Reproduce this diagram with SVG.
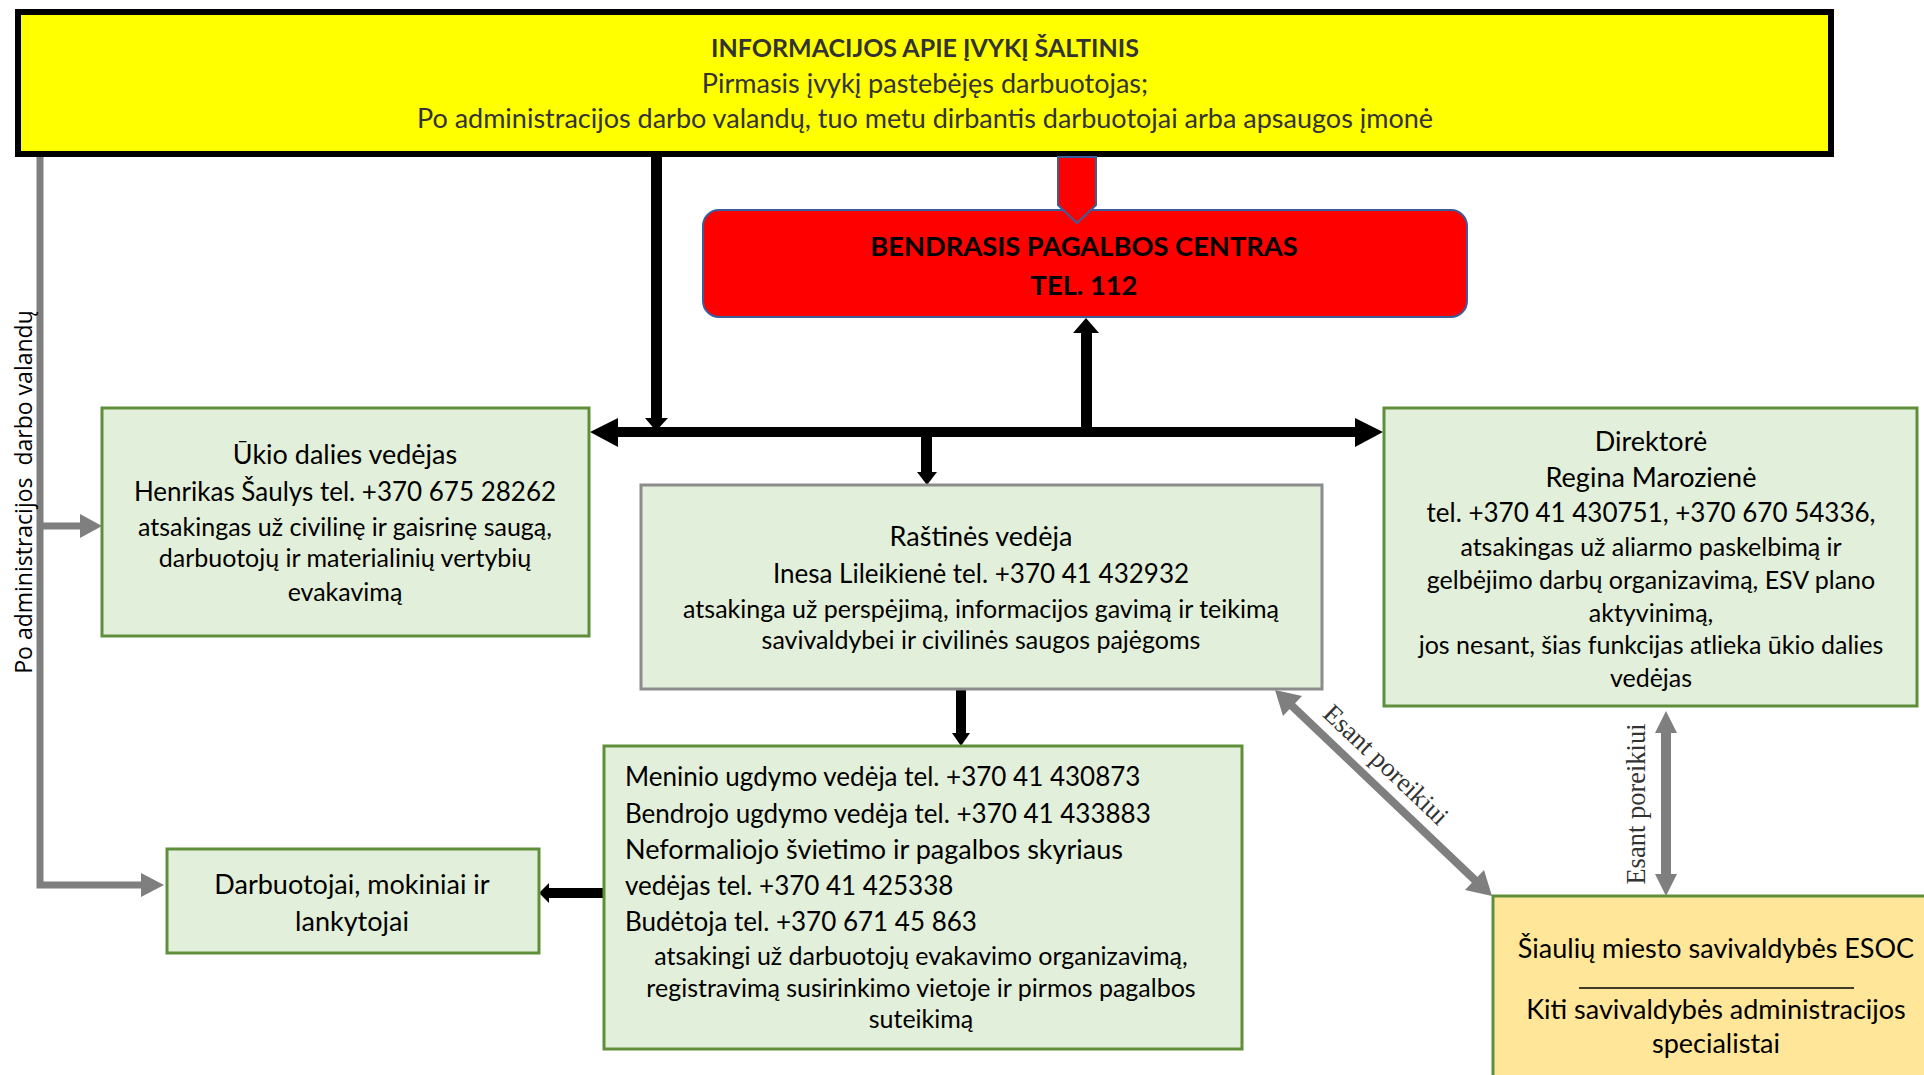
<svg xmlns="http://www.w3.org/2000/svg" width="1924" height="1075" viewBox="0 0 1924 1075">
<style>
.t{font-family:Lato,"Liberation Sans",sans-serif;fill:#000;text-anchor:middle}
.l{text-anchor:start}
.top{fill:#333}
.b{font-weight:bold}
.f27{font-size:27px}
.f26{font-size:26px}
.f25{font-size:25px}
.green{fill:#e2efda;stroke:#5f8f3b;stroke-width:3}
.blk{fill:#000}
.gry{fill:#7f7f7f}
.lbl{font-family:"Liberation Serif","Times New Roman",serif;font-size:26.5px;fill:#333;text-anchor:middle}
</style>
<rect width="1924" height="1075" fill="#fff"/>

<g id="connectors">
  <polyline points="40,157 40,885 141,885" fill="none" stroke="#7f7f7f" stroke-width="7"/>
  <polygon class="gry" points="164,885 141,873 141,897"/>
  <line x1="40" y1="526" x2="80" y2="526" stroke="#7f7f7f" stroke-width="7"/>
  <polygon class="gry" points="102,526 80,514 80,538"/>
  <rect class="blk" x="651" y="157" width="11" height="262"/>
  <polygon class="blk" points="645,418 668,418 656,431"/>
  <rect class="blk" x="616" y="427" width="741" height="10"/>
  <polygon class="blk" points="590,432 618,418 618,447"/>
  <polygon class="blk" points="1383,432 1355,418 1355,447"/>
  <rect class="blk" x="1081" y="331" width="11" height="101"/>
  <polygon class="blk" points="1086,318 1073,333 1099,333"/>
  <rect class="blk" x="921" y="432" width="11" height="41"/>
  <polygon class="blk" points="917,472 937,472 927,485"/>
  <rect class="blk" x="956" y="689" width="10" height="45"/>
  <polygon class="blk" points="952,733 970,733 961,746"/>
  <rect class="blk" x="547" y="888" width="56" height="10"/>
  <polygon class="blk" points="539,893 549,883 549,903"/>
  <rect class="gry" x="1661" y="731" width="10" height="145"/>
  <polygon class="gry" points="1666,711 1655,733 1677,733"/>
  <polygon class="gry" points="1666,896 1655,874 1677,874"/>
  <line x1="1290" y1="704" x2="1477" y2="882" stroke="#7f7f7f" stroke-width="8"/>
  <polygon class="gry" points="1275,690 1283,716 1302,696"/>
  <polygon class="gry" points="1492,896 1484,870 1465,890"/>
  <text class="lbl" transform="translate(1645,804) rotate(-90)">Esant poreikiui</text>
  <text class="lbl" transform="translate(1380,771) rotate(43.5)">Esant poreikiui</text>
  <text transform="translate(32,492) rotate(-90)" text-anchor="middle" font-family="'Open Sans',sans-serif" font-size="23" fill="#000" xml:space="preserve">Po administracijos  darbo valandų</text>
</g>

<g id="source">
  <rect x="18" y="12" width="1813" height="142" fill="#ffff00" stroke="#000" stroke-width="6"/>
  <text class="t top b" x="925" y="57" font-size="25">INFORMACIJOS APIE ĮVYKĮ ŠALTINIS</text>
  <text class="t top f27" x="925" y="93">Pirmasis įvykį pastebėjęs darbuotojas;</text>
  <text class="t top f27" x="925" y="128">Po administracijos darbo valandų, tuo metu dirbantis darbuotojai arba apsaugos įmonė</text>
</g>

<g id="bpc">
  <rect x="703" y="210" width="764" height="107" rx="16" fill="#ff0000" stroke="#3b5e9a" stroke-width="2"/>
  <text class="t b" x="1084" y="256" font-size="27.3">BENDRASIS PAGALBOS CENTRAS</text>
  <text class="t b" x="1084" y="295" font-size="27.3">TEL. 112</text>
</g>
<g id="bpc-arrow">
  <polygon points="1058,157 1096,157 1096,205 1077,223 1058,205" fill="#ff0000" stroke="#3b5e9a" stroke-width="2"/>
</g>

<g id="ukio">
  <rect class="green" x="102" y="408" width="487" height="228"/>
  <text class="t f27" x="345" y="464">Ūkio dalies vedėjas</text>
  <text class="t f26" x="345" y="501">Henrikas Šaulys tel. +370 675 28262</text>
  <text class="t f25" x="345" y="536">atsakingas už civilinę ir gaisrinę saugą,</text>
  <text class="t f25" x="345" y="567">darbuotojų ir materialinių vertybių</text>
  <text class="t f25" x="345" y="601">evakavimą</text>
</g>

<g id="rastine">
  <rect x="641" y="485" width="681" height="204" fill="#e2efda" stroke="#8c8c8c" stroke-width="3"/>
  <text class="t f27" x="981" y="546">Raštinės vedėja</text>
  <text class="t f26" x="981" y="583">Inesa Lileikienė tel. +370 41 432932</text>
  <text class="t f25" x="981" y="618">atsakinga už perspėjimą, informacijos gavimą ir teikimą</text>
  <text class="t f25" x="981" y="649">savivaldybei ir civilinės saugos pajėgoms</text>
</g>

<g id="direktore">
  <rect class="green" x="1384" y="408" width="533" height="298"/>
  <text class="t f27" x="1651" y="451">Direktorė</text>
  <text class="t f27" x="1651" y="487">Regina Marozienė</text>
  <text class="t f26" x="1651" y="522">tel. +370 41 430751, +370 670 54336,</text>
  <text class="t f25" x="1651" y="556">atsakingas už aliarmo paskelbimą ir</text>
  <text class="t f25" x="1651" y="589">gelbėjimo darbų organizavimą, ESV plano</text>
  <text class="t f25" x="1651" y="622">aktyvinimą,</text>
  <text class="t f25" x="1651" y="654">jos nesant, šias funkcijas atlieka ūkio dalies</text>
  <text class="t f25" x="1651" y="687">vedėjas</text>
</g>

<g id="meninio">
  <rect class="green" x="604" y="746" width="638" height="303"/>
  <text class="t l f26" x="625" y="786">Meninio ugdymo vedėja tel. +370 41 430873</text>
  <text class="t l f26" x="625" y="823">Bendrojo ugdymo vedėja tel. +370 41 433883</text>
  <text class="t l f27" x="625" y="859">Neformaliojo švietimo ir pagalbos skyriaus</text>
  <text class="t l f26" x="625" y="895">vedėjas tel. +370 41 425338</text>
  <text class="t l f26" x="625" y="931">Budėtoja tel. +370 671 45 863</text>
  <text class="t f25" x="921" y="965">atsakingi už darbuotojų evakavimo organizavimą,</text>
  <text class="t f25" x="921" y="997">registravimą susirinkimo vietoje ir pirmos pagalbos</text>
  <text class="t f25" x="921" y="1028">suteikimą</text>
</g>

<g id="darbuotojai">
  <rect class="green" x="167" y="849" width="372" height="104"/>
  <text class="t f27" x="352" y="894">Darbuotojai, mokiniai ir</text>
  <text class="t f27" x="352" y="931">lankytojai</text>
</g>

<g id="esoc">
  <rect x="1493" y="896" width="440" height="190" fill="#ffe699" stroke="#5f8f3b" stroke-width="3"/>
  <text class="t f27" x="1716" y="958">Šiaulių miesto savivaldybės ESOC</text>
  <line x1="1579" y1="988" x2="1854" y2="988" stroke="#000" stroke-width="1.5"/>
  <text class="t f27" x="1716" y="1019">Kiti savivaldybės administracijos</text>
  <text class="t f27" x="1716" y="1053">specialistai</text>
</g>
</svg>
